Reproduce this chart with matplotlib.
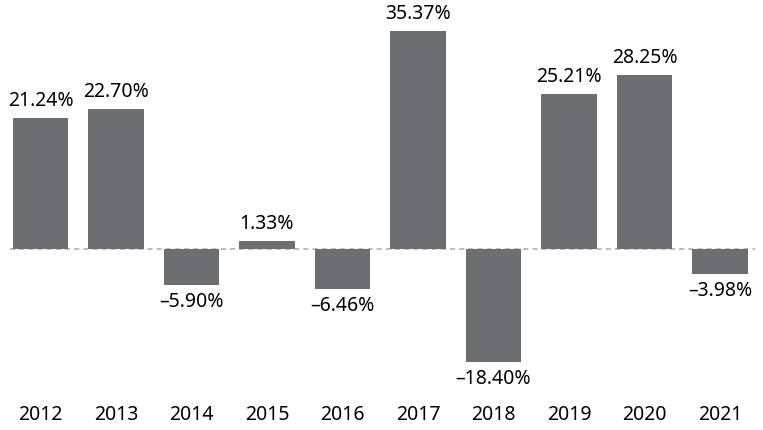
import matplotlib
matplotlib.use('Agg')
import matplotlib.pyplot as plt

years = ['2012', '2013', '2014', '2015', '2016', '2017', '2018', '2019', '2020', '2021']
returns = [21.24, 22.70, -5.90, 1.33, -6.46, 35.37, -18.40, 25.21, 28.25, -3.98]

plt.rcParams['font.family'] = ['Noto Sans', 'DejaVu Sans']

fig = plt.figure(figsize=(7.63, 4.30), dpi=100)
ax = fig.add_axes([0, 0, 1, 1])

px = 75.5          # pixels per category
py = 6.16          # pixels per percent
ax.set_xlim(-40.5 / px, (763 - 40.5) / px)
ax.set_ylim(-(430 - 249) / py, 249 / py)

x = list(range(len(years)))
ax.bar(x, returns, width=0.74, color='#6d6e71', zorder=2)
ax.plot([-30 / px, (755 - 40.5) / px], [0, 0], color='#b0b0b0', lw=1.2,
        ls=(0, (3, 2.5)), zorder=1)

for xi, v in zip(x, returns):
    txt = '{:.2f}%'.format(abs(v))
    if v >= 0:
        ax.text(xi, v + 7 / py, txt, ha='center', va='bottom', fontsize=14, color='black')
    else:
        ax.text(xi, v - 7 / py, '\u2013' + txt, ha='center', va='top', fontsize=14, color='black')

for xi, y in zip(x, years):
    ax.text(xi, -(415 - 249) / py, y, ha='center', va='center', fontsize=14, color='black')

ax.axis('off')
fig.savefig('out.png', dpi=100)
